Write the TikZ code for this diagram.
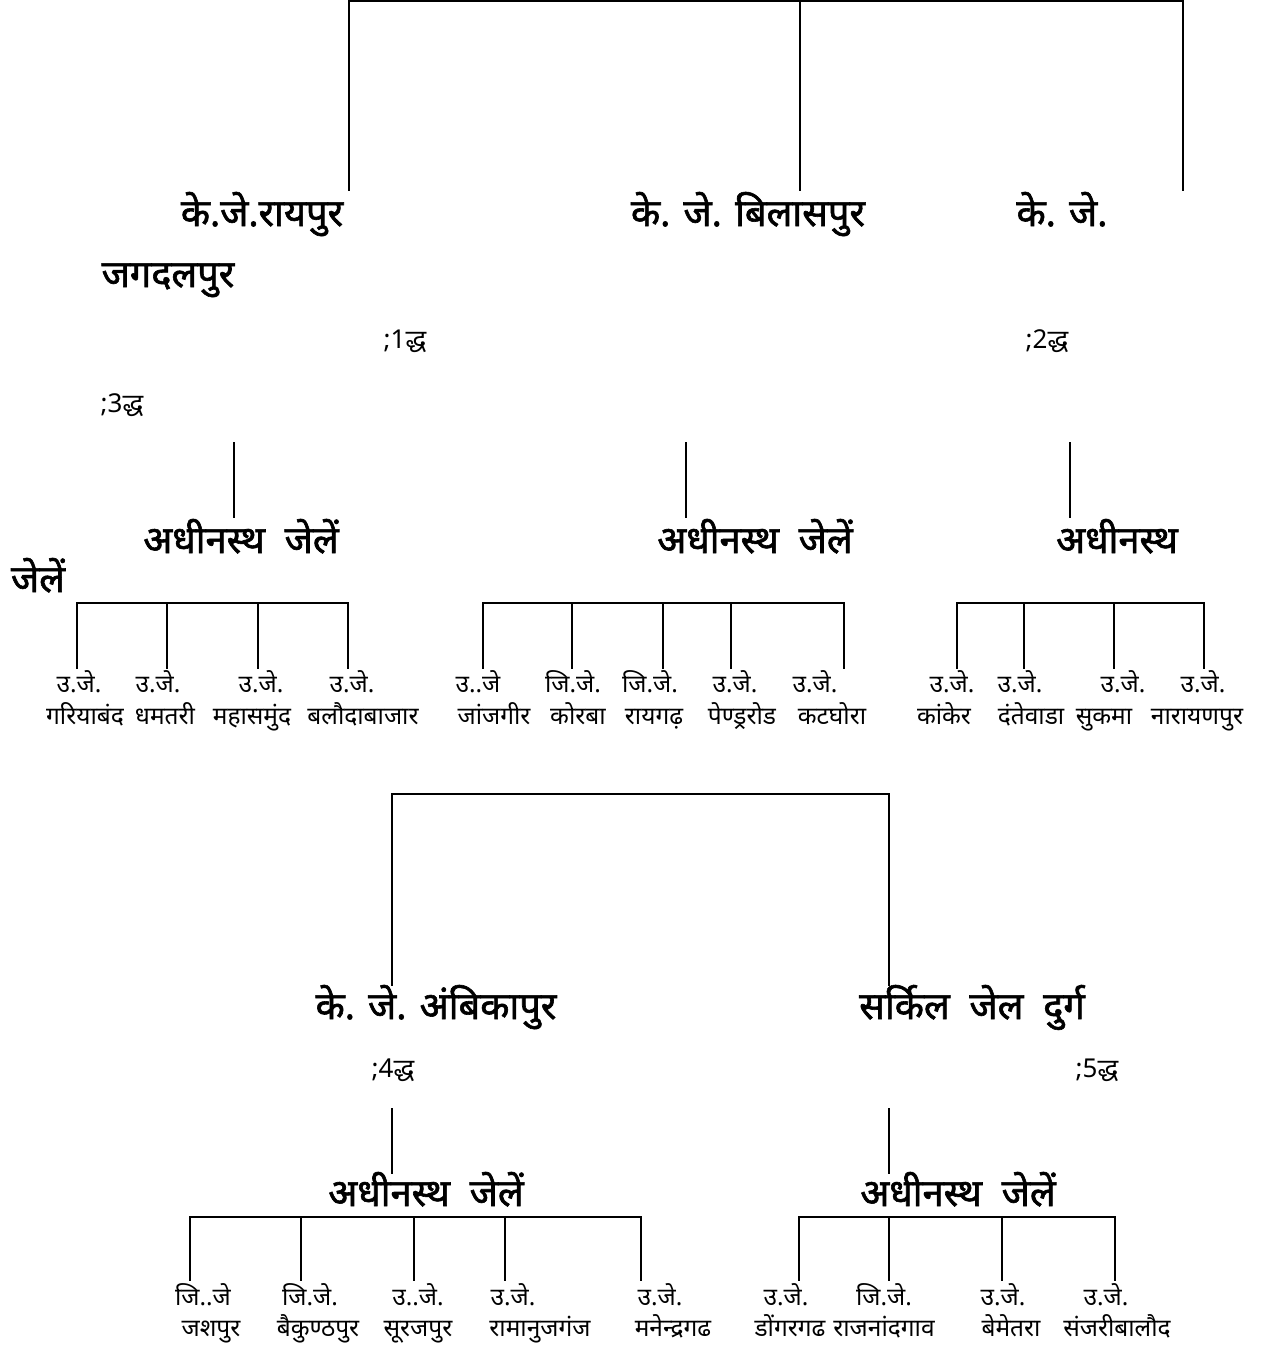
\documentclass[tikz,border=0pt]{standalone}
\usepackage{fontspec}
\newfontfamily\deva[Script=Devanagari]{Noto Sans}
\newfontfamily\devab[Script=Devanagari,FakeBold=1.6]{Noto Sans}
\begin{document}
\begin{tikzpicture}[x=1pt,y=-1pt,
  conn/.style={line width=1.7pt,line cap=rect},
  head/.style={font=\devab\fontsize{38}{44}\selectfont,inner sep=0pt,anchor=base},
  num/.style={font=\deva\fontsize{26}{30}\selectfont,inner sep=0pt,anchor=base},
  small/.style={font=\deva\fontsize{24.5}{28}\selectfont,inner sep=0pt,anchor=base}]
\useasboundingbox (0,0) rectangle (1263,1345);

% ---------- top level ----------
\coordinate (t1) at (349,1); \coordinate (t1b) at (349,190);
\coordinate (t2) at (800,1); \coordinate (t2b) at (800,190);
\coordinate (t3) at (1183,1); \coordinate (t3b) at (1183,190);
\draw[conn] (t1b) -- (t1) -- (t3) -- (t3b);
\draw[conn] (t2) -- (t2b);

\node[head] (raipur) at (262,226) {के.जे.रायपुर};
\node[head] (bilaspur) at (748,226) {के. जे. बिलासपुर};
\node[head] (kj3) at (1062,226) {के. जे.};
\node[head] (jagdalpur) at (168,287) {जगदलपुर};
\node[num] (n1) at (405,348) {;1द्ध};
\node[num] (n2) at (1047,348) {;2द्ध};
\node[num] (n3) at (122,412) {;3द्ध};

\coordinate (s1) at (234,443); \coordinate (s1b) at (234,517);
\coordinate (s2) at (686,443); \coordinate (s2b) at (686,517);
\coordinate (s3) at (1070,443); \coordinate (s3b) at (1070,517);
\draw[conn] (s1) -- (s1b);
\draw[conn] (s2) -- (s2b);
\draw[conn] (s3) -- (s3b);

\node[head] (sub1) at (241,553) {अधीनस्थ\ \ जेलें};
\node[head] (sub2) at (755,553) {अधीनस्थ\ \ जेलें};
\node[head] (sub3) at (1117,553) {अधीनस्थ};
\node[head] (jelen) at (38,592) {जेलें};

% ---------- group A ----------
\foreach \x [count=\i] in {77,167,258,348}{
  \coordinate (ga\i) at (\x,603); \coordinate (gae\i) at (\x,668);
  \draw[conn] (ga\i) -- (gae\i);}
\draw[conn] (ga1) -- (ga4);
\foreach \x/\t [count=\i] in {79/उ.जे.,158/उ.जे.,261/उ.जे.,352/उ.जे.}
  \node[small] (gau\i) at (\x,692) {\t};
\foreach \x/\t [count=\i] in {85/गरियाबंद,165/धमतरी,252/महासमुंद,363/बलौदाबाजार}
  \node[small] (gan\i) at (\x,724) {\t};

% ---------- group B ----------
\foreach \x [count=\i] in {483,572,663,731,844}{
  \coordinate (gb\i) at (\x,603); \coordinate (gbe\i) at (\x,668);
  \draw[conn] (gb\i) -- (gbe\i);}
\draw[conn] (gb1) -- (gb5);
\foreach \x/\t [count=\i] in {478/उ..जे,573/जि.जे.,650/जि.जे.,735/उ.जे.,815/उ.जे.}
  \node[small] (gbu\i) at (\x,692) {\t};
\foreach \x/\t [count=\i] in {494/जांजगीर,578/कोरबा,654/रायगढ़,742/पेण्ड्ररोड,832/कटघोरा}
  \node[small] (gbn\i) at (\x,724) {\t};

% ---------- group C ----------
\foreach \x [count=\i] in {957,1024,1114,1204}{
  \coordinate (gc\i) at (\x,603); \coordinate (gce\i) at (\x,668);
  \draw[conn] (gc\i) -- (gce\i);}
\draw[conn] (gc1) -- (gc4);
\foreach \x/\t [count=\i] in {952/उ.जे.,1020/उ.जे.,1123/उ.जे.,1203/उ.जे.}
  \node[small] (gcu\i) at (\x,692) {\t};
\foreach \x/\t [count=\i] in {944/कांकेर,1031/दंतेवाडा,1104/सुकमा,1197/नारायणपुर}
  \node[small] (gcn\i) at (\x,724) {\t};

% ---------- lower tree ----------
\coordinate (b1) at (392,794); \coordinate (b1b) at (392,985);
\coordinate (b2) at (889,794); \coordinate (b2b) at (889,985);
\draw[conn] (b1b) -- (b1) -- (b2) -- (b2b);

\node[head] (ambikapur) at (436,1019) {के. जे. अंबिकापुर};
\node[head] (durg) at (972,1019) {सर्किल\ \ जेल\ \ दुर्ग};
\node[num] (n4) at (393,1077) {;4द्ध};
\node[num] (n5) at (1097,1077) {;5द्ध};

\coordinate (s4) at (392,1109); \coordinate (s4b) at (392,1173);
\coordinate (s5) at (889,1109); \coordinate (s5b) at (889,1173);
\draw[conn] (s4) -- (s4b);
\draw[conn] (s5) -- (s5b);

\node[head] (sub4) at (426,1206) {अधीनस्थ\ \ जेलें};
\node[head] (sub5) at (958,1206) {अधीनस्थ\ \ जेलें};

% ---------- group D ----------
\foreach \x [count=\i] in {190,301,414,505,641}{
  \coordinate (gd\i) at (\x,1217); \coordinate (gde\i) at (\x,1280);
  \draw[conn] (gd\i) -- (gde\i);}
\draw[conn] (gd1) -- (gd5);
\foreach \x/\t [count=\i] in {203/जि..जे,310/जि.जे.,418/उ..जे.,513/उ.जे.,660/उ.जे.}
  \node[small] (gdu\i) at (\x,1305) {\t};
\foreach \x/\t [count=\i] in {211/जशपुर,318/बैकुण्ठपुर,418/सूरजपुर,540/रामानुजगंज,673/मनेन्द्रगढ}
  \node[small] (gdn\i) at (\x,1336) {\t};

% ---------- group E ----------
\foreach \x [count=\i] in {799,889,1002,1115}{
  \coordinate (ge\i) at (\x,1217); \coordinate (gee\i) at (\x,1280);
  \draw[conn] (ge\i) -- (gee\i);}
\draw[conn] (ge1) -- (ge4);
\foreach \x/\t [count=\i] in {786/उ.जे.,884/जि.जे.,1003/उ.जे.,1106/उ.जे.}
  \node[small] (geu\i) at (\x,1305) {\t};
\foreach \x/\t [count=\i] in {790/डोंगरगढ,884/राजनांदगाव,1011/बेमेतरा,1117/संजरीबालौद}
  \node[small] (gen\i) at (\x,1336) {\t};
\end{tikzpicture}
\end{document}
